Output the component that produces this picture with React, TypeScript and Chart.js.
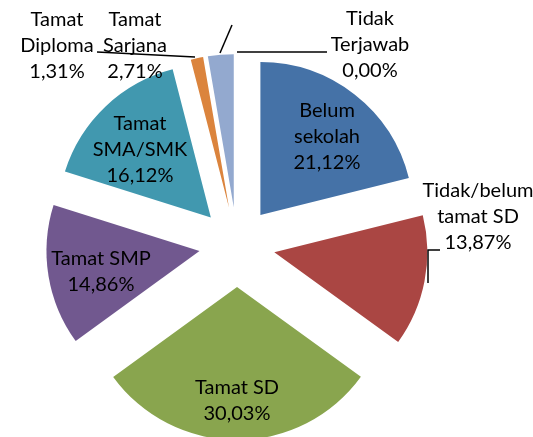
import React, { useEffect, useRef } from "react";
import { Chart, registerables } from "chart.js";

Chart.register(...registerables);

// ---- data ----
const categories: string[][] = [
  ["Belum", "sekolah"],
  ["Tidak/belum", "tamat SD"],
  ["Tamat SD"],
  ["Tamat SMP"],
  ["Tamat", "SMA/SMK"],
  ["Tamat", "Diploma"],
  ["Tamat", "Sarjana"],
  ["Tidak", "Terjawab"],
];
const values: number[] = [21.12, 13.87, 30.03, 14.86, 16.12, 1.31, 2.71, 0.0];
const percentLabels: string[] = ["21,12%", "13,87%", "30,03%", "14,86%", "16,12%", "1,31%", "2,71%", "0,00%"];

// ---- styles ----
const colors = ["#4572A7", "#AA4643", "#89A54E", "#71588F", "#4198AF", "#DB843D", "#93A9CF", "#A47D7C"];
const explode = [38, 38, 42, 38, 38, 38, 38, 38];
const RADIUS = 153;
const FONT = "20px Lato";
const LINE_H = 26;
// label centres relative to pie centre
const labelOffsets: [number, number][] = [
  [90, -108],
  [241, -28],
  [0, 156],
  [-136, 27],
  [-97, -95],
  [-180, -199],
  [-102, -199],
  [133, -200],
];
// leader lines relative to pie centre
const leaders: [number, number][][] = [
  [[191, 38], [191, 5], [203, 5]],
  [[-140, -193], [-42, -188]],
  [[-17, -192], [-5, -220]],
  [[0, -193], [90, -193]],
];

const explodePlugin = {
  id: "explodeSlices",
  beforeDatasetDraw(chart: any, args: any) {
    const ctx = chart.ctx;
    args.meta.data.forEach((arc: any, i: number) => {
      const half = (arc.startAngle + arc.endAngle) / 2;
      const d = explode[i] || 0;
      ctx.save();
      ctx.translate(Math.cos(half) * d, Math.sin(half) * d);
      arc.draw(ctx);
      ctx.restore();
    });
    return false;
  },
};

const labelPlugin = {
  id: "pieLabels",
  afterDatasetsDraw(chart: any) {
    const ctx = chart.ctx;
    const meta = chart.getDatasetMeta(0);
    const arc0 = meta.data[0];
    if (!arc0) return;
    const cx = arc0.x;
    const cy = arc0.y;
    ctx.save();
    ctx.strokeStyle = "#000";
    ctx.lineWidth = 1.5;
    leaders.forEach((pts) => {
      ctx.beginPath();
      pts.forEach(([dx, dy], j) => {
        if (j === 0) ctx.moveTo(cx + dx, cy + dy);
        else ctx.lineTo(cx + dx, cy + dy);
      });
      ctx.stroke();
    });
    ctx.fillStyle = "#000";
    ctx.font = FONT;
    ctx.textAlign = "center";
    ctx.textBaseline = "middle";
    categories.forEach((lines, i) => {
      const all = [...lines, percentLabels[i]];
      const [dx, dy] = labelOffsets[i];
      const x = cx + dx;
      const y0 = cy + dy - ((all.length - 1) * LINE_H) / 2;
      all.forEach((t, j) => ctx.fillText(t, x, y0 + j * LINE_H));
    });
    ctx.restore();
  },
};

export default function App() {
  const ref = useRef<HTMLCanvasElement>(null);
  useEffect(() => {
    if (!ref.current) return;
    const chart = new Chart(ref.current, {
      type: "pie",
      data: {
        labels: categories.map((l) => l.join(" ")),
        datasets: [
          {
            data: values,
            backgroundColor: colors,
            borderWidth: 0,
            clip: false as any,
          },
        ],
      },
      options: {
        responsive: false,
        animation: false,
        radius: RADIUS,
        layout: { padding: { left: 0, right: 59, top: 53, bottom: 0 } },
        plugins: {
          legend: { display: false },
          tooltip: { enabled: false },
        },
        events: [],
      } as any,
      plugins: [explodePlugin, labelPlugin],
    });
    return () => chart.destroy();
  }, []);
  return (
    <div style={{ position: "fixed", left: 0, top: 0, width: 533, height: 437, background: "#fff" }}>
      <canvas ref={ref} width={533} height={437} style={{ width: 533, height: 437 }} />
    </div>
  );
}
